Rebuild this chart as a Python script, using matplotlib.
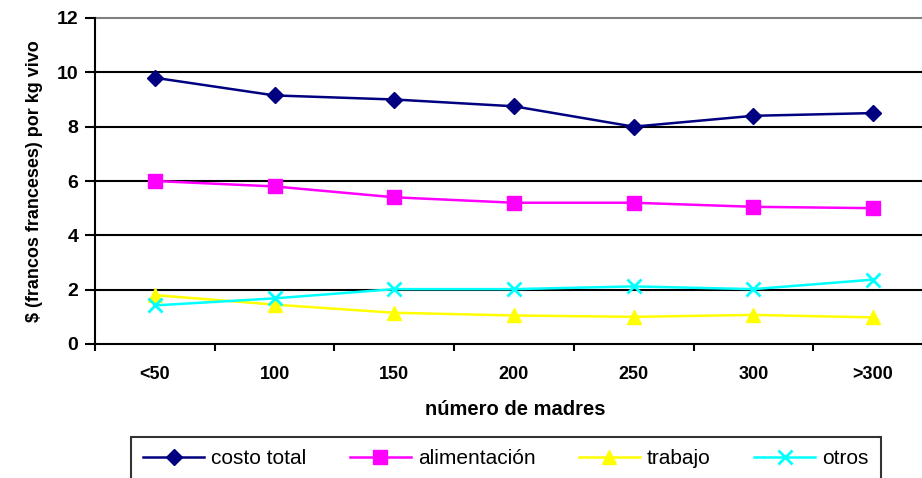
import matplotlib
matplotlib.use("Agg")
import matplotlib.pyplot as plt
import numpy as np

categories = ["<50", "100", "150", "200", "250", "300", ">300"]
costo_total = [9.8, 9.15, 9.0, 8.75, 8.0, 8.4, 8.5]
alimentacion = [6.0, 5.8, 5.4, 5.2, 5.2, 5.05, 5.0]
trabajo = [1.8, 1.45, 1.15, 1.05, 1.0, 1.07, 0.98]
otros = [1.42, 1.68, 2.02, 2.02, 2.12, 2.02, 2.37]

plt.rcParams['font.family'] = ['Liberation Sans', 'DejaVu Sans']

fig = plt.figure(figsize=(9.22, 4.78), dpi=100)
ax = fig.add_axes([95/922, 1-344/478, 840/922, 326/478])

x = np.arange(len(categories))
ax.plot(x, costo_total, color='#000080', lw=1.8, marker='D', ms=8, label='costo total')
ax.plot(x, alimentacion, color='#FF00FF', lw=1.8, marker='s', ms=10, label='alimentación')
ax.plot(x, trabajo, color='#FFFF00', lw=1.8, marker='^', ms=10, label='trabajo')
ax.plot(x, otros, color='#00FFFF', lw=1.8, marker='x', ms=10, mew=2, label='otros')

ax.set_xlim(-0.483, len(categories) - 0.483)
ax.set_ylim(0, 12)
ax.set_yticks(range(0, 13, 2))
ax.set_xticks(x)
ax.set_xticklabels(categories, fontsize=13, fontweight='bold')
ax.set_xticks(np.arange(-0.5, len(categories), 1), minor=True)
ax.tick_params(axis='x', which='major', length=0, pad=16)
ax.tick_params(axis='x', which='minor', length=5, width=1.5, direction='out')
ax.tick_params(axis='y', length=7, width=1.5, direction='out', labelsize=14, pad=5)
for lbl in ax.get_yticklabels():
    lbl.set_fontweight('bold')

for v in range(2, 12, 2):
    ax.axhline(v, color='black', lw=1.5, zorder=0)
ax.axhline(12, color='#808080', lw=1.5, zorder=0, clip_on=False)

for s in ['top', 'right']:
    ax.spines[s].set_visible(False)
ax.spines['left'].set_linewidth(1.5)
ax.spines['bottom'].set_linewidth(1.5)

ax.set_xlabel('número de madres', fontsize=14.5, fontweight='bold', labelpad=12)
ax.set_ylabel('$ (francos franceses) por kg vivo', fontsize=13, fontweight='bold', labelpad=10)

leg = fig.legend(loc='upper center', bbox_to_anchor=(506/922, 1-437/478), ncol=4,
                 fontsize=15, frameon=True, fancybox=False, edgecolor='black',
                 handlelength=2.9, columnspacing=2.1, handletextpad=0.35,
                 borderpad=0.6, borderaxespad=0)
leg.get_frame().set_linewidth(1.5)

fig.savefig('out.png', dpi=100)
